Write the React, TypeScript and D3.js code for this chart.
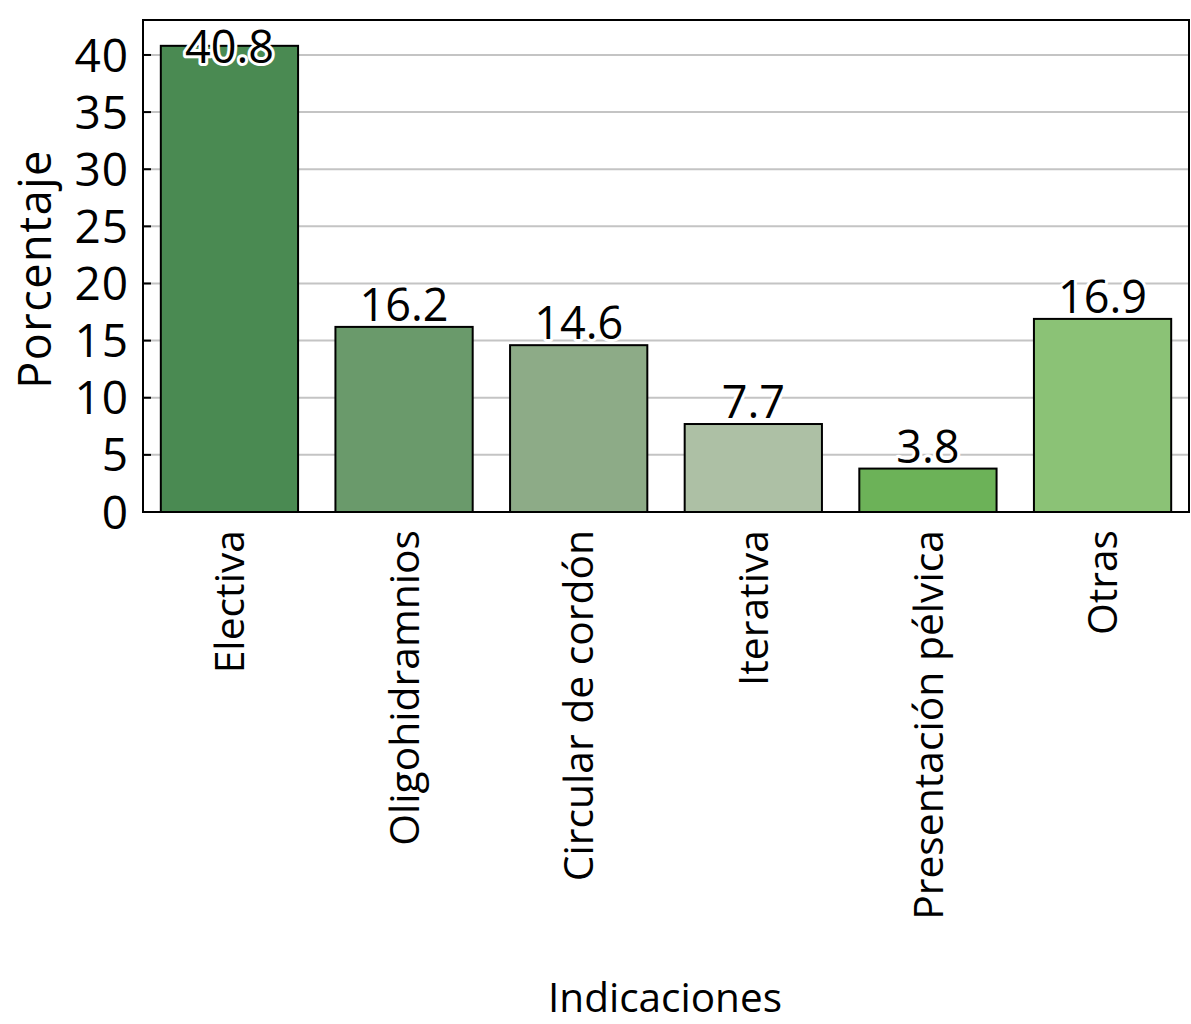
import React from "react";
import * as d3 from "d3";

const categories = ["Electiva", "Oligohidramnios", "Circular de cordón", "Iterativa", "Presentación pélvica", "Otras"];
const values = [40.8, 16.2, 14.6, 7.7, 3.8, 16.9];
const colors = ["#4a8a52", "#6a9a6b", "#8dab87", "#adc0a5", "#6cb258", "#8bc276"];
const yTicks = [0, 5, 10, 15, 20, 25, 30, 35, 40];
const xTitle = "Indicaciones";
const yTitle = "Porcentaje";

const W = 1191, H = 1024;
const M = { left: 143, right: 1189, top: 20, bottom: 512 };
const FONT = "'Open Sans', 'Noto Sans', sans-serif";

export default function App() {
  const x = d3.scaleBand<string>().domain(categories).range([M.left, M.right]).paddingInner(0.214).paddingOuter(0.102);
  const y = d3.scaleLinear().domain([0, 43.06]).range([M.bottom, M.top]);
  return (
    <svg width={W} height={H} style={{ position: "absolute", left: 0, top: 0, background: "#fff" }} fontFamily={FONT}>
      {yTicks.filter(t => t > 0).map(t => (
        <line key={"g" + t} x1={M.left} x2={M.right} y1={y(t)} y2={y(t)} stroke="#c4c4c4" strokeWidth={2} />
      ))}
      {yTicks.map(t => (
        <line key={"t" + t} x1={M.left} x2={M.left + 8} y1={y(t)} y2={y(t)} stroke="#000" strokeWidth={2} />
      ))}
      {categories.map((c, i) => (
        <rect key={c} x={x(c)} y={y(values[i])} width={x.bandwidth()} height={y(0) - y(values[i])}
          fill={colors[i]} stroke="#000" strokeWidth={2} />
      ))}
      <rect x={M.left} y={M.top} width={M.right - M.left} height={M.bottom - M.top} fill="none" stroke="#000" strokeWidth={2} />
      {yTicks.map(t => (
        <text key={"l" + t} x={129} y={y(t)} dy="0.36em" textAnchor="end" fontSize={46} fontWeight={500} letterSpacing={1} fill="#000">{t}</text>
      ))}
      {categories.map((c, i) => {
        const by = Math.max(y(values[i]) - 6, M.top + 43);
        return (
          <text key={"v" + c} x={(x(c) as number) + x.bandwidth() / 2} y={by} textAnchor="middle" fontSize={45} fontWeight={500}
            fill="#000" stroke="#fff" strokeWidth={6} paintOrder="stroke" strokeLinejoin="round">{values[i].toFixed(1)}</text>
        );
      })}
      {categories.map(c => {
        const cx = (x(c) as number) + x.bandwidth() / 2;
        return (
          <text key={"c" + c} transform={`translate(${cx},530) rotate(-90)`} textAnchor="end" dy="0.36em" fontSize={40.8} fill="#000">{c}</text>
        );
      })}
      <text transform={`translate(35,269) rotate(-90)`} textAnchor="middle" dy="0.36em" fontSize={45} letterSpacing={1.5} fill="#000">{yTitle}</text>
      <text x={665} y={1012} textAnchor="middle" fontSize={40.5} fill="#000">{xTitle}</text>
    </svg>
  );
}
